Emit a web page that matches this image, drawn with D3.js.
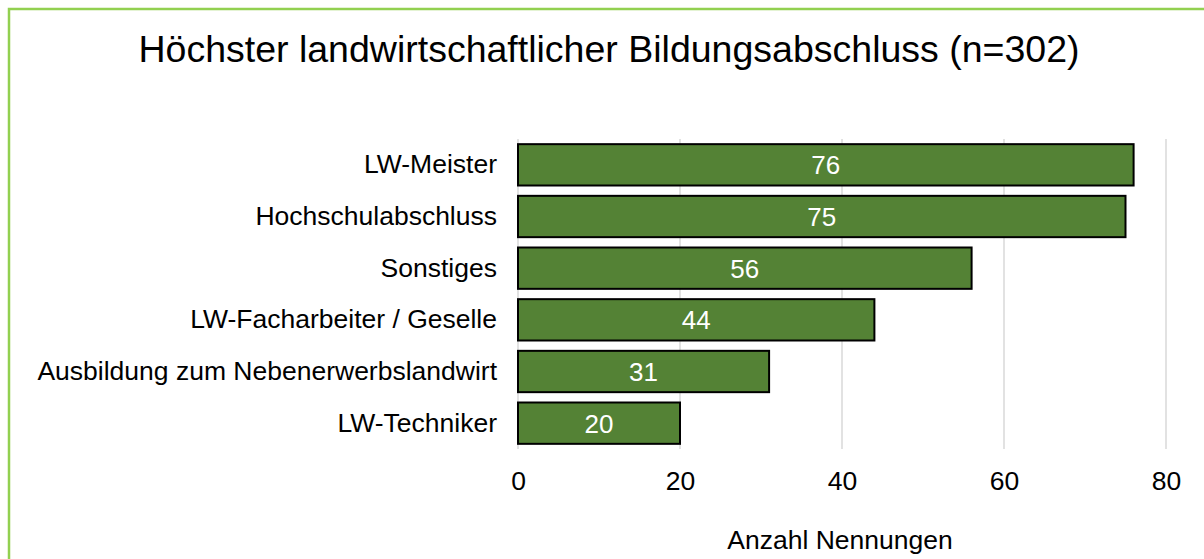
<!DOCTYPE html>
<html>
<head>
<meta charset="utf-8">
<script src="https://cdn.jsdelivr.net/npm/d3@7"></script>
<style>
  body { margin: 0; background: #fff; }
  text { font-family: Arial, "Liberation Sans", sans-serif; }
</style>
</head>
<body>
<div id="chart"></div>
<script>
// Höchster Abschluss - data
let categories = ["LW-Meister", "Hochschulabschluss", "Sonstiges", "LW-Facharbeiter / Geselle", "Ausbildung zum Nebenerwerbslandwirt", "LW-Techniker"];
let counts = [76, 75, 56, 44, 31, 20];
let xTicks = [0, 20, 40, 60, 80];

let svgWidth = 1204;
let svgHeight = 559;
let plot = { left: 518, right: 1166, top: 139, bottom: 449 };

let svg = d3.select("#chart")
  .append("svg")
  .attr("width", svgWidth)
  .attr("height", svgHeight);

// green frame (right and bottom edges fall outside the picture)
svg.append("rect")
  .attr("x", 9)
  .attr("y", 9)
  .attr("width", svgWidth + 20)
  .attr("height", svgHeight + 20)
  .attr("fill", "none")
  .attr("stroke", "#92d050")
  .attr("stroke-width", 2.5);

let x = d3.scaleLinear()
  .domain([0, 80])
  .range([plot.left, plot.right]);

let y = d3.scaleBand()
  .domain(categories)
  .range([plot.top, plot.bottom])
  .paddingInner(0.2)
  .paddingOuter(0.1);

// gridlines
svg.append("g")
  .selectAll("line")
  .data(xTicks)
  .enter()
  .append("line")
  .attr("x1", d => x(d))
  .attr("x2", d => x(d))
  .attr("y1", plot.top)
  .attr("y2", plot.bottom)
  .attr("stroke", "#d9d9d9")
  .attr("stroke-width", 1.5);

// x axis labels only
let bottomAxis = d3.axisBottom(x).tickValues(xTicks).tickSize(0).tickPadding(0);
let xAxis = svg.append("g")
  .attr("transform", "translate(0," + (plot.bottom + 22) + ")")
  .call(bottomAxis);
xAxis.select(".domain").remove();
xAxis.selectAll("text")
  .attr("dy", "0.71em")
  .attr("font-size", 26.5)
  .attr("font-family", "Arial, 'Liberation Sans', sans-serif")
  .attr("fill", "#000");

// y axis labels
let leftAxis = d3.axisLeft(y).tickSize(0).tickPadding(21);
let yAxis = svg.append("g")
  .attr("transform", "translate(" + plot.left + ",0)")
  .call(leftAxis);
yAxis.select(".domain").remove();
yAxis.selectAll("text")
  .attr("font-size", 26.5)
  .attr("font-family", "Arial, 'Liberation Sans', sans-serif")
  .attr("fill", "#000");

// bars
let rows = categories.map((c, i) => ({ cat: c, val: counts[i] }));

let bars = svg.append("g").selectAll("g")
  .data(rows)
  .enter()
  .append("g");

bars.append("rect")
  .attr("x", x(0))
  .attr("y", d => y(d.cat))
  .attr("width", d => x(d.val) - x(0))
  .attr("height", y.bandwidth())
  .attr("fill", "#548235")
  .attr("stroke", "#000")
  .attr("stroke-width", 2);

bars.append("text")
  .attr("x", d => (x(0) + x(d.val)) / 2)
  .attr("y", d => y(d.cat) + y.bandwidth() / 2)
  .attr("dy", "0.36em")
  .attr("text-anchor", "middle")
  .attr("font-size", 26)
  .attr("fill", "#fff")
  .text(d => d.val);

// title
svg.append("text")
  .attr("x", 609)
  .attr("y", 62)
  .attr("text-anchor", "middle")
  .attr("font-size", 37.5)
  .text("Höchster landwirtschaftlicher Bildungsabschluss (n=302)");

// axis title
svg.append("text")
  .attr("x", 840)
  .attr("y", 549)
  .attr("text-anchor", "middle")
  .attr("font-size", 26.5)
  .text("Anzahl Nennungen");
</script>
</body>
</html>
